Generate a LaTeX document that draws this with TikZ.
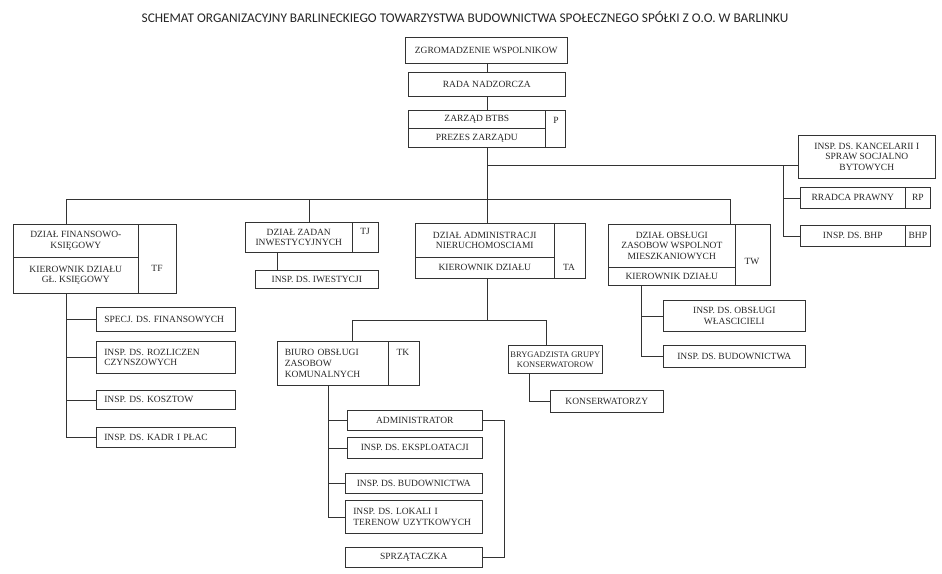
\documentclass[tikz,border=0pt]{standalone}
\usepackage{fontspec}
\setmainfont{Liberation Serif}
\newfontfamily\titlefont{Carlito}
\usepackage{tikz}
\usetikzlibrary{calc}

\begin{document}
\begin{tikzpicture}[x=1pt,y=-1pt,
    cell/.style={draw=black!80, line width=0.6pt, anchor=north west, inner sep=1pt,
        align=center, text=black!85, font=\fontsize{9.5}{10.5}\selectfont},
    lcell/.style={cell, align=left, inner xsep=8pt},
    code/.style={inner sep=0pt, text=black!85, font=\fontsize{9.5}{10.5}\selectfont},
    link/.style={draw=black!80, line width=0.6pt}]

    \useasboundingbox (0,0) rectangle (942,573);

    % Title
    \node[text=black!85, font=\titlefont\fontsize{13.3}{15}\selectfont] (title) at (465,17)
        {SCHEMAT ORGANIZACYJNY BARLINECKIEGO TOWARZYSTWA BUDOWNICTWA SPOŁECZNEGO SPÓŁKI Z O.O. W BARLINKU};

    % Place the top of the company
    \node[cell, minimum width=162, minimum height=26] (zgrom) at (405,37) {ZGROMADZENIE WSPOLNIKOW};
    \node[cell, minimum width=157, minimum height=24] (rada) at (408,72) {RADA NADZORCZA};
    \node[cell, minimum width=137, minimum height=18] (zarzadTop) at (408,110) {ZARZĄD BTBS};
    \node[cell, minimum width=137, minimum height=19] (zarzadBot) at (408,128) {PREZES ZARZĄDU};
    \node[cell, minimum width=20, minimum height=37] (zarzadCode) at (545,110) {};
    \node[code] (zarzadP) at (556,120) {P};

    % Place the posts on the right
    \node[cell, minimum width=137, minimum height=43] (kanc) at (798,135)
        {INSP. DS. KANCELARII I\\SPRAW SOCJALNO\\BYTOWYCH};
    \node[cell, minimum width=105, minimum height=21] (rradca) at (800,187) {RRADCA PRAWNY};
    \node[cell, minimum width=25, minimum height=21] (rradcaCode) at (905,187) {RP};
    \node[cell, minimum width=105, minimum height=21] (bhp) at (800,225) {INSP. DS. BHP};
    \node[cell, minimum width=25, minimum height=21] (bhpCode) at (905,225) {BHP};

    % Place the departments
    \node[cell, minimum width=125, minimum height=33] (finTop) at (13,224) {DZIAŁ FINANSOWO-\\KSIĘGOWY};
    \node[cell, minimum width=125, minimum height=36] (finBot) at (13,257) {KIEROWNIK DZIAŁU\\GŁ. KSIĘGOWY};
    \node[cell, minimum width=38, minimum height=69] (finCode) at (138,224) {};
    \node[code] (finTF) at (157,268) {TF};

    \node[cell, minimum width=107, minimum height=30] (zadL) at (245,222) {DZIAŁ ZADAN\\INWESTYCYJNYCH};
    \node[cell, minimum width=26, minimum height=30] (zadCode) at (352,222) {};
    \node[code] (zadTJ) at (365,231) {TJ};

    \node[cell, minimum width=139, minimum height=34] (admTop) at (415,223) {DZIAŁ ADMINISTRACJI\\NIERUCHOMOSCIAMI};
    \node[cell, minimum width=139, minimum height=21] (admBot) at (415,257) {KIEROWNIK DZIAŁU};
    \node[cell, minimum width=31, minimum height=55] (admCode) at (554,223) {};
    \node[code] (admTA) at (569,267) {TA};

    \node[cell, minimum width=127, minimum height=43] (obsTop) at (608,224)
        {DZIAŁ OBSŁUGI\\ZASOBOW WSPOLNOT\\MIESZKANIOWYCH};
    \node[cell, minimum width=127, minimum height=18] (obsBot) at (608,267) {KIEROWNIK DZIAŁU};
    \node[cell, minimum width=35, minimum height=61] (obsCode) at (735,224) {};
    \node[code] (obsTW) at (752,261) {TW};

    % Posts of the finance department
    \node[lcell, text width=123, minimum height=24] (specj) at (96,307) {SPECJ. DS. FINANSOWYCH};
    \node[lcell, text width=123, minimum height=32] (rozl) at (96,341) {INSP. DS. ROZLICZEN\\CZYNSZOWYCH};
    \node[lcell, text width=123, minimum height=19] (koszt) at (96,390) {INSP. DS. KOSZTOW};
    \node[lcell, text width=123, minimum height=20] (kadr) at (96,427) {INSP. DS. KADR I PŁAC};

    \node[cell, minimum width=123, minimum height=18] (iwest) at (255,270) {INSP. DS. IWESTYCJI};

    % Posts of the other departments
    \node[cell, minimum width=142, minimum height=31] (wlasc) at (663,300) {INSP. DS. OBSŁUGI\\WŁASCICIELI};
    \node[cell, minimum width=142, minimum height=22] (obsBud) at (663,345) {INSP. DS. BUDOWNICTWA};

    \node[cell, text width=96, align=left, minimum width=111, minimum height=44] (biuro) at (277,341)
        {BIURO OBSŁUGI\\[0.5pt]ZASOBOW\\[0.5pt]KOMUNALNYCH};
    \node[cell, minimum width=31, minimum height=44] (biuroCode) at (388,341) {};
    \node[code] (biuroTK) at (403,352) {TK};

    \node[cell, minimum width=94, minimum height=28, font=\fontsize{8.5}{10}\selectfont] (bryg) at (508,345)
        {BRYGADZISTA GRUPY\\KONSERWATOROW};
    \node[cell, minimum width=113, minimum height=22] (kons) at (550,390) {KONSERWATORZY};

    \node[cell, minimum width=135, minimum height=20] (admr) at (347,410) {ADMINISTRATOR};
    \node[cell, minimum width=135, minimum height=21] (ekspl) at (347,437) {INSP. DS. EKSPLOATACJI};
    \node[cell, minimum width=137, minimum height=20] (bud) at (345,473) {INSP. DS. BUDOWNICTWA};
    \node[lcell, text width=121, minimum height=33] (lok) at (345,500) {INSP. DS. LOKALI I\\TERENOW UZYTKOWYCH};
    \node[cell, minimum width=137, minimum height=20] (sprz) at (345,547) {SPRZĄTACZKA};

    % Junctions
    \coordinate (jFin) at (66,199);
    \coordinate (jZad) at (309,199);
    \coordinate (jAdm) at (487,199);
    \coordinate (jObs) at (730,199);
    \coordinate (jRight) at (783,165);
    \coordinate (jBiuro) at (352,320);
    \coordinate (jBryg) at (546,320);
    \coordinate (tFin) at (66,293);
    \coordinate (tObs) at (641,285);
    \coordinate (tBiuro) at (328,385);

    % Draw the top line
    \draw[link] (rada.north |- zgrom.south) -- (rada.north);
    \draw[link] (rada.south) -- (rada.south |- zarzadTop.north);
    \draw[link] (jAdm |- zarzadBot.south) -- (jAdm);

    % Draw the right branch
    \draw[link] (jAdm |- jRight) -- (jRight) -- (jRight |- bhp.west);
    \draw[link] (jRight) -- (jRight -| kanc.west);
    \draw[link] (jRight |- rradca.west) -- (rradca.west);
    \draw[link] (jRight |- bhp.west) -- (bhp.west);

    % Draw the departments line
    \draw[link] (jFin) -- (jObs);
    \draw[link] (jFin) -- (jFin |- finTop.north);
    \draw[link] (jZad) -- (jZad |- zadL.north);
    \draw[link] (jAdm) -- (jAdm |- admTop.north);
    \draw[link] (jObs) -- (jObs |- obsTop.north);

    % Draw the finance posts
    \draw[link] (tFin) |- (kadr.west);
    \draw[link] (tFin |- specj.west) -- (specj.west);
    \draw[link] (tFin |- rozl.west) -- (rozl.west);
    \draw[link] (tFin |- koszt.west) -- (koszt.west);

    \draw[link] ([xshift=32]zadL.south west) -- ([xshift=22]iwest.north west);

    % Draw the administration posts
    \draw[link] (jAdm |- admBot.south) -- (jAdm |- jBiuro);
    \draw[link] (jBiuro |- biuro.north) -- (jBiuro) -- (jBryg) -- (jBryg |- bryg.north);
    \draw[link] ([xshift=21]bryg.south west) |- (kons.west);
    \draw[link] (tBiuro) |- (lok.west);
    \draw[link] (tBiuro |- admr.west) -- (admr.west);
    \draw[link] (tBiuro |- ekspl.west) -- (ekspl.west);
    \draw[link] (tBiuro |- bud.west) -- (bud.west);
    \draw[link] (admr.east) -- ++(22,0) |- (sprz.east);

    % Draw the posts of the owners department
    \draw[link] (tObs) |- (obsBud.west);
    \draw[link] (tObs |- wlasc.west) -- (wlasc.west);

\end{tikzpicture}
\end{document}
